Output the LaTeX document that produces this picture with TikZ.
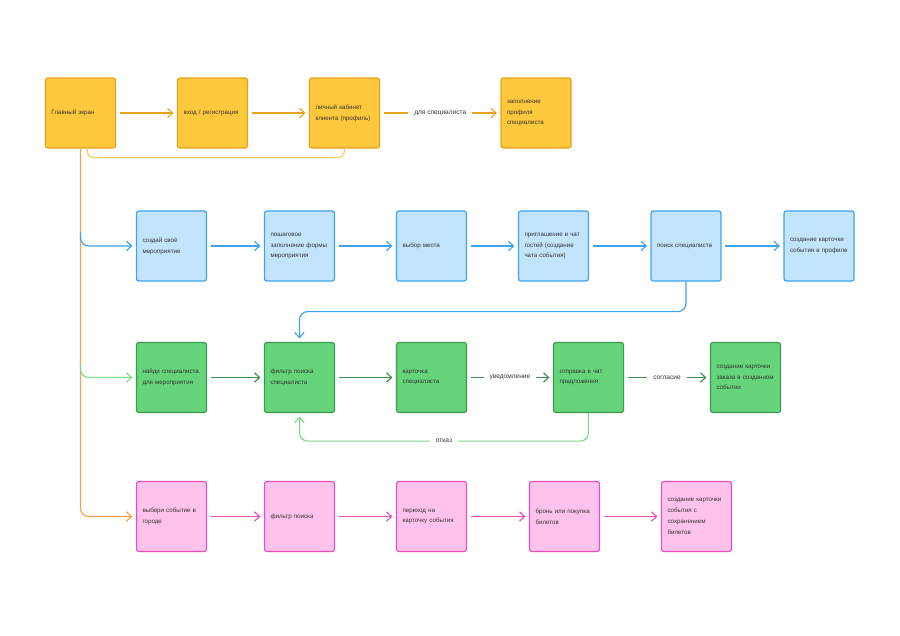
\documentclass[tikz,border=0pt]{standalone}
\usepackage{fontspec}
\setmainfont{Liberation Sans}
\usetikzlibrary{arrows.meta}

\definecolor{yfill}{HTML}{FFC83D}
\definecolor{yline}{HTML}{E6A21A}
\definecolor{trunk}{HTML}{F3A24A}
\definecolor{yloop}{HTML}{F8CC55}
\definecolor{bfill}{HTML}{C3E4FD}
\definecolor{bline}{HTML}{3FA3EE}
\definecolor{gfill}{HTML}{66D47A}
\definecolor{gline}{HTML}{3A9A4E}
\definecolor{garrow}{HTML}{3E8E4F}
\definecolor{glight}{HTML}{7ED88C}
\definecolor{pfill}{HTML}{FFC2EC}
\definecolor{pline}{HTML}{E84FBA}
\definecolor{txt}{HTML}{333333}

\tikzset{
  box/.style={draw, rounded corners=2pt, line width=1pt, minimum width=2.1cm,
    minimum height=2.1cm, text width=1.74cm, align=left, inner sep=0pt,
    font=\fontsize{5.3}{9.2}\selectfont, text=txt},
  ybox/.style={box, fill=yfill, draw=yline},
  bbox/.style={box, fill=bfill, draw=bline},
  gbox/.style={box, fill=gfill, draw=gline},
  pbox/.style={box, fill=pfill, draw=pline},
  flow/.style={line width=1pt, -{Straight Barb[length=1.5mm,width=2.8mm]},
    shorten <=3pt, shorten >=3pt},
  lbl/.style={fill=white, text=txt, inner xsep=5pt, font=\fontsize{5.6}{7}\selectfont}
}

\begin{document}
\begin{tikzpicture}[x=0.03cm, y=-0.03cm]
\useasboundingbox (0,0) rectangle (900,635);

\draw (80.5, 113) node[ybox] (main) {Главный экран};
\draw (212.5, 113) node[ybox] (login) {вход / регистрация};
\draw (344.5, 113) node[ybox] (cabinet) {личный кабинет\\клиента (профиль)};
\draw (536, 113) node[ybox] (specprof) {заполнение\\профиля\\специалиста};

\draw (171.5, 246) node[bbox] (create) {создай своё\\мероприятие};
\draw (299.5, 246) node[bbox] (steps) {пошаговое\\заполнение формы\\мероприятия};
\draw (431.5, 246) node[bbox] (place) {выбор места};
\draw (553.5, 246) node[bbox] (invite) {приглашение в чат\\гостей (создание\\чата события)};
\draw (686, 246) node[bbox] (search) {поиск специалиста};
\draw (819, 246) node[bbox] (evcard) {создание карточки\\события в профиле};

\draw (171.5, 377.5) node[gbox] (find) {найди специалиста\\для мероприятия};
\draw (299.5, 377.5) node[gbox] (filter) {фильтр поиска\\специалиста};
\draw (431.5, 377.5) node[gbox] (spcard) {карточка\\специалиста};
\draw (588.5, 377.5) node[gbox] (offer) {отправка в чат\\предложения};
\draw (745.5, 377.5) node[gbox] (order) {создание карточки\\заказа в созданном\\событии};

\draw (171.5, 516.5) node[pbox] (pick) {выбери событие в\\городе};
\draw (299.5, 516.5) node[pbox] (pfilter) {фильтр поиска};
\draw (431.5, 516.5) node[pbox] (goto) {переход на\\карточку события};
\draw (564.5, 516.5) node[pbox] (book) {бронь или покупка\\билетов};
\draw (696.5, 516.5) node[pbox] (tickets) {создание карточки\\события с\\сохранением\\билетов};

\coordinate (bfork) at (80.5, 232);
\coordinate (gfork) at (80.5, 363);

\draw[flow, yline] (main) -- (login);
\draw[flow, yline] (login) -- (cabinet);
\draw[flow, yline] (cabinet) -- node[lbl] {для специалиста} (specprof);
\draw[yloop, line width=1pt, rounded corners=6pt] ([xshift=0.2cm]main.south) -- ++(0, 9) -| (cabinet.south);

\draw[flow, trunk, shorten <=0pt, rounded corners=7pt] (main.south) |- (pick.west);
\draw[flow, bline, shorten <=0pt, rounded corners=7pt] (bfork) |- (create.west);
\draw[flow, glight, shorten <=0pt, rounded corners=7pt] (gfork) |- (find.west);

\draw[flow, bline] (create) -- (steps);
\draw[flow, bline] (steps) -- (place);
\draw[flow, bline] (place) -- (invite);
\draw[flow, bline] (invite) -- (search);
\draw[flow, bline] (search) -- (evcard);
\draw[flow, bline, shorten <=0pt, rounded corners=7pt] (search.south) -- ++(0, 30) -| (filter.north);

\draw[flow, garrow] (find) -- (filter);
\draw[flow, garrow] (filter) -- (spcard);
\draw[flow, garrow] (spcard) -- node[lbl] {уведомление} (offer);
\draw[flow, garrow] (offer) -- node[lbl] {согласие} (order);
\draw[flow, glight, shorten <=0pt, rounded corners=7pt] (offer.south) -- ++(0, 28) -| node[lbl, pos=0.25] {отказ} (filter.south);

\draw[flow, pline] (pick) -- (pfilter);
\draw[flow, pline] (pfilter) -- (goto);
\draw[flow, pline] (goto) -- (book);
\draw[flow, pline] (book) -- (tickets);
\end{tikzpicture}
\end{document}
